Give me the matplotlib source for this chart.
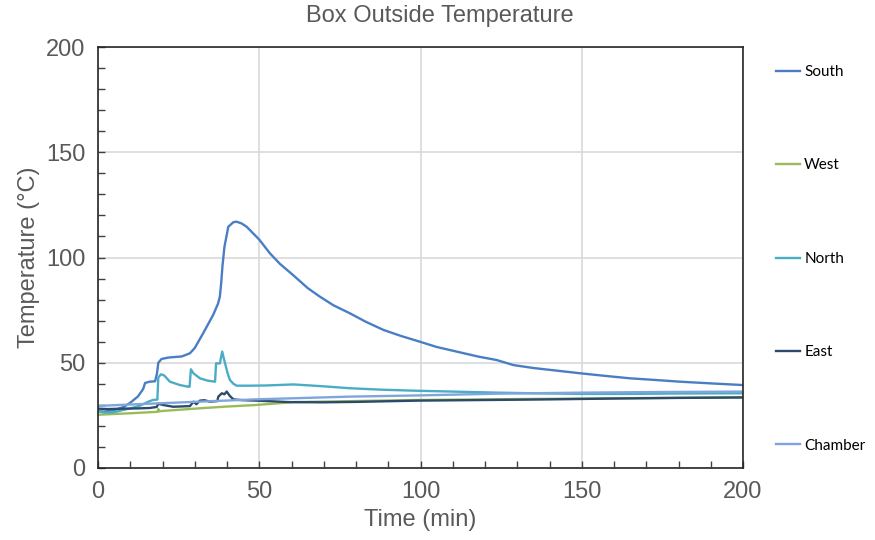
import numpy as np
import matplotlib.pyplot as plt
from matplotlib.ticker import MultipleLocator

# readings (time in min, temperature in degC)
south_t = [0, 2, 5, 8, 10, 12.4, 14, 14.6, 16, 17.7, 18.3, 18.7, 19.7, 22, 26, 28.5, 30, 32.6,
           35.7, 37.2, 37.8, 38.2, 38.6, 39.2, 40.4, 42, 43, 44.5, 46.1, 50, 53.3, 56.4, 60.6,
           65, 68.8, 73, 78.1, 83, 88.5, 94, 99.8, 105, 111.2, 118, 123.6, 128.8, 135, 142,
           149.5, 157, 165, 172, 180.5, 190, 200]
south_T = [27, 26.8, 27.5, 29, 31, 34, 37.5, 40.4, 41, 41.2, 45, 50, 51.8, 52.5, 53, 54.5, 57, 64,
           72.7, 78, 81.5, 88, 96, 105, 114.6, 116.8, 117, 116.2, 114.6, 108.5, 102, 97, 91.5,
           85.5, 81.4, 77.3, 73.5, 69.5, 65.6, 62.7, 60, 57.5, 55.3, 52.9, 51.3, 48.9, 47.5, 46.3,
           45, 43.8, 42.6, 41.9, 41, 40.2, 39.4]

west_t = [0, 10, 18.5, 18.7, 19, 20, 30, 40, 48.7, 60.6, 80, 98.8, 120, 150, 175, 200]
west_T = [25.3, 26, 26.7, 28, 26.9, 27.1, 28.2, 29.2, 29.9, 31.3, 31.8, 32.3, 32.6, 33, 33.3, 33.6]

north_t = [0, 2, 5, 7.8, 10, 13, 15.6, 17, 18.4, 18.7, 19.5, 20.5, 22.3, 25.4, 28, 28.4, 28.8,
           29.6, 31.6, 34, 36.3, 36.6, 37.8, 38.5, 39.4, 40.2, 40.9, 42, 43, 47, 52, 60.6, 70,
           78, 88, 98.8, 110, 123.6, 135, 149.5, 165, 180, 200]
north_T = [27, 26.3, 26.5, 27.6, 28.3, 29.6, 31.5, 32.3, 32.5, 43, 44.5, 44, 41, 39.4, 38.6, 38.6,
           46.9, 45, 42.6, 41.5, 41, 49.7, 49.7, 55.3, 49.7, 45, 41.8, 40, 39.1, 39.1, 39.2, 39.7,
           38.8, 37.9, 37.2, 36.7, 36.3, 35.8, 35.5, 35.2, 35.2, 35.4, 35.5]

east_t = [0, 3, 8, 12, 16, 18.2, 18.7, 20, 23.3, 28.5, 29.6, 30.5, 31.6, 33, 34.7, 37, 37.3, 38.4,
          39.2, 39.9, 40.9, 42, 45, 49.2, 59.5, 70, 80, 98.8, 120, 140, 160, 180, 200]
east_T = [28.2, 28, 28.2, 28.3, 28.5, 29, 30.5, 30, 29.1, 29.4, 31.5, 30.3, 32, 32.2, 31.5, 31.8,
          33.9, 35.5, 35, 36.3, 34.2, 32.6, 32.2, 32, 31.3, 31.2, 31.4, 32, 32.3, 32.6, 33, 33.3, 33.5]

chamber_t = [0, 20, 48.7, 78, 100, 123.6, 150, 175, 200]
chamber_T = [29.5, 30.8, 32.6, 33.9, 34.5, 35.3, 35.8, 36.1, 36.3]

series = [
    ('South', south_t, south_T, '#4a7ec4'),
    ('West', west_t, west_T, '#9bbb59'),
    ('North', north_t, north_T, '#4bacc6'),
    ('East', east_t, east_T, '#2c4a6e'),
    ('Chamber', chamber_t, chamber_T, '#7ea6dc'),
]

FONT = ['Liberation Sans', 'DejaVu Sans']
GREY = '#595959'

fig = plt.figure(figsize=(8.75, 5.4), dpi=100)
ax = fig.add_axes([98 / 875, 1 - 468 / 540, (743 - 98) / 875, (468 - 47) / 540])

for name, t, T, c in series:
    ax.plot(t, T, color=c, lw=1.7, label=name)

ax.set_xlim(0, 200)
ax.set_ylim(0, 200)
ax.xaxis.set_major_locator(MultipleLocator(50))
ax.yaxis.set_major_locator(MultipleLocator(50))
ax.xaxis.set_minor_locator(MultipleLocator(10))
ax.yaxis.set_minor_locator(MultipleLocator(10))
ax.grid(True, which='major', color='#d9d9d9', lw=1.2)
ax.set_axisbelow(True)
ax.tick_params(which='both', direction='in', length=5, width=1, color='#404040')
ax.tick_params(which='major', labelsize=17, labelcolor=GREY, pad=9)
for lbl in ax.get_xticklabels() + ax.get_yticklabels():
    lbl.set_family(FONT)
for sp in ax.spines.values():
    sp.set_color('#262626')
    sp.set_linewidth(1.2)

ax.set_xlabel('Time (min)', fontsize=17, color=GREY, family=FONT, labelpad=5)
ax.set_ylabel('Temperature (°C)', fontsize=17, color=GREY, family=FONT)
ax.yaxis.set_label_coords(-(98 - 40) / 645, 0.5)
fig.text(440 / 875, 1 - 16 / 540, 'Box Outside Temperature', fontsize=17, color=GREY,
         family=FONT, ha='center', va='center')

fig.legend(loc='upper left', bbox_to_anchor=(776 / 875, 1 - 65 / 540), frameon=False,
           labelspacing=5.2, handlelength=1.6, handletextpad=0.25,
           borderpad=0, borderaxespad=0, prop={'family': ['Lato', 'DejaVu Sans'], 'size': 11})

fig.savefig('out.png', dpi=100)
